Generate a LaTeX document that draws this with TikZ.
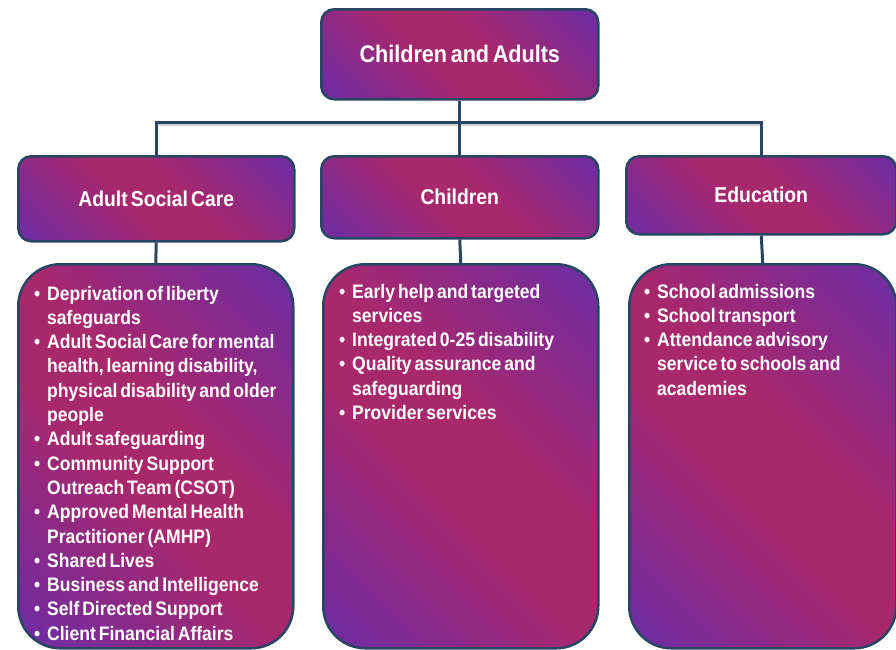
\documentclass[tikz,border=0pt]{standalone}
\usepackage{fontspec}
\newfontfamily\cfont{Liberation Sans}[FakeStretch=0.9,WordSpace=0.6]
\definecolor{pp}{RGB}{114,44,158}
\definecolor{mg}{RGB}{168,40,108}
\definecolor{ln}{RGB}{40,70,100}
\pgfdeclarehorizontalshading{pmshade}{100bp}{color(0bp)=(pp); color(18bp)=(pp); color(44bp)=(mg); color(56bp)=(mg); color(82bp)=(pp); color(100bp)=(pp)}
\newcommand\bitem[1]{\par\hangindent=13pt\hangafter=1\noindent\makebox[13pt][l]{\textbullet}#1}
\tikzset{
 box/.style={draw=ln, line width=2.5pt, shading=pmshade, shading angle=45, anchor=north west, inner sep=0pt, text=white},
 hdr/.style={box, rounded corners=13pt, font=\cfont\bfseries\fontsize{21.5}{26}\selectfont},
 lst/.style={box, rounded corners=42pt},
 conn/.style={draw=ln, line width=3pt},
 connshadow/.style={draw=black, opacity=0.18, line width=3pt},
 itm/.style={text=white, anchor=base west, inner sep=0pt, font=\cfont\bfseries\fontsize{19.5}{24.3}\selectfont}
}
\begin{document}
\begin{tikzpicture}[x=1pt,y=1pt]
\useasboundingbox (0,0) rectangle (896,-649);
% header boxes
\node[hdr, minimum width=277pt, minimum height=90pt, font=\cfont\bfseries\fontsize{24}{28}\selectfont] (top) at (320,-8) {Children and Adults};
\node[hdr, minimum width=276pt, minimum height=85pt] (asc) at (17,-155) {Adult Social Care};
\node[hdr, minimum width=277pt, minimum height=82pt] (chi) at (320,-155) {Children};
\node[hdr, minimum width=270pt, minimum height=78pt] (edu) at (625,-155) {Education};
% list boxes
\node[lst, minimum width=275pt, minimum height=384pt] (lasc) at (17,-263) {};
\node[lst, minimum width=275pt, minimum height=384pt] (lchi) at (322,-263) {};
\node[lst, minimum width=267pt, minimum height=384pt] (ledu) at (628,-263) {};
% connectors
\coordinate (bus) at (0,-122);
\begin{scope}[transform canvas={shift={(1.5pt,-2.5pt)}}]
\draw[connshadow] (asc.north |- bus) -- (edu.north |- bus);
\end{scope}
\draw[conn] (top.south) -- (top.south |- bus);
\draw[conn] (asc.north) -- (asc.north |- bus) -- (edu.north |- bus) -- (edu.north);
\draw[conn] (chi.north) -- (chi.north |- bus);
\draw[conn] (asc.south) -- (lasc.north);
\draw[conn] (chi.south) -- (lchi.north);
\draw[conn] (edu.south) -- (ledu.north);
% list texts
\node[itm] (tasc) at (34,-300) {\parbox[t]{300pt}{%
\bitem{Deprivation of liberty\\safeguards}
\bitem{Adult Social Care for mental\\health, learning disability,\\physical disability and older\\people}
\bitem{Adult safeguarding}
\bitem{Community Support\\Outreach Team (CSOT)}
\bitem{Approved Mental Health\\Practitioner (AMHP)}
\bitem{Shared Lives}
\bitem{Business and Intelligence}
\bitem{Self Directed Support}
\bitem{Client Financial Affairs}}};
\node[itm] (tchi) at (339,-298) {\parbox[t]{300pt}{%
\bitem{Early help and targeted\\services}
\bitem{Integrated 0-25 disability}
\bitem{Quality assurance and\\safeguarding}
\bitem{Provider services}}};
\node[itm] (tedu) at (644,-298) {\parbox[t]{300pt}{%
\bitem{School admissions}
\bitem{School transport}
\bitem{Attendance advisory\\service to schools and\\academies}}};
\end{tikzpicture}
\end{document}
